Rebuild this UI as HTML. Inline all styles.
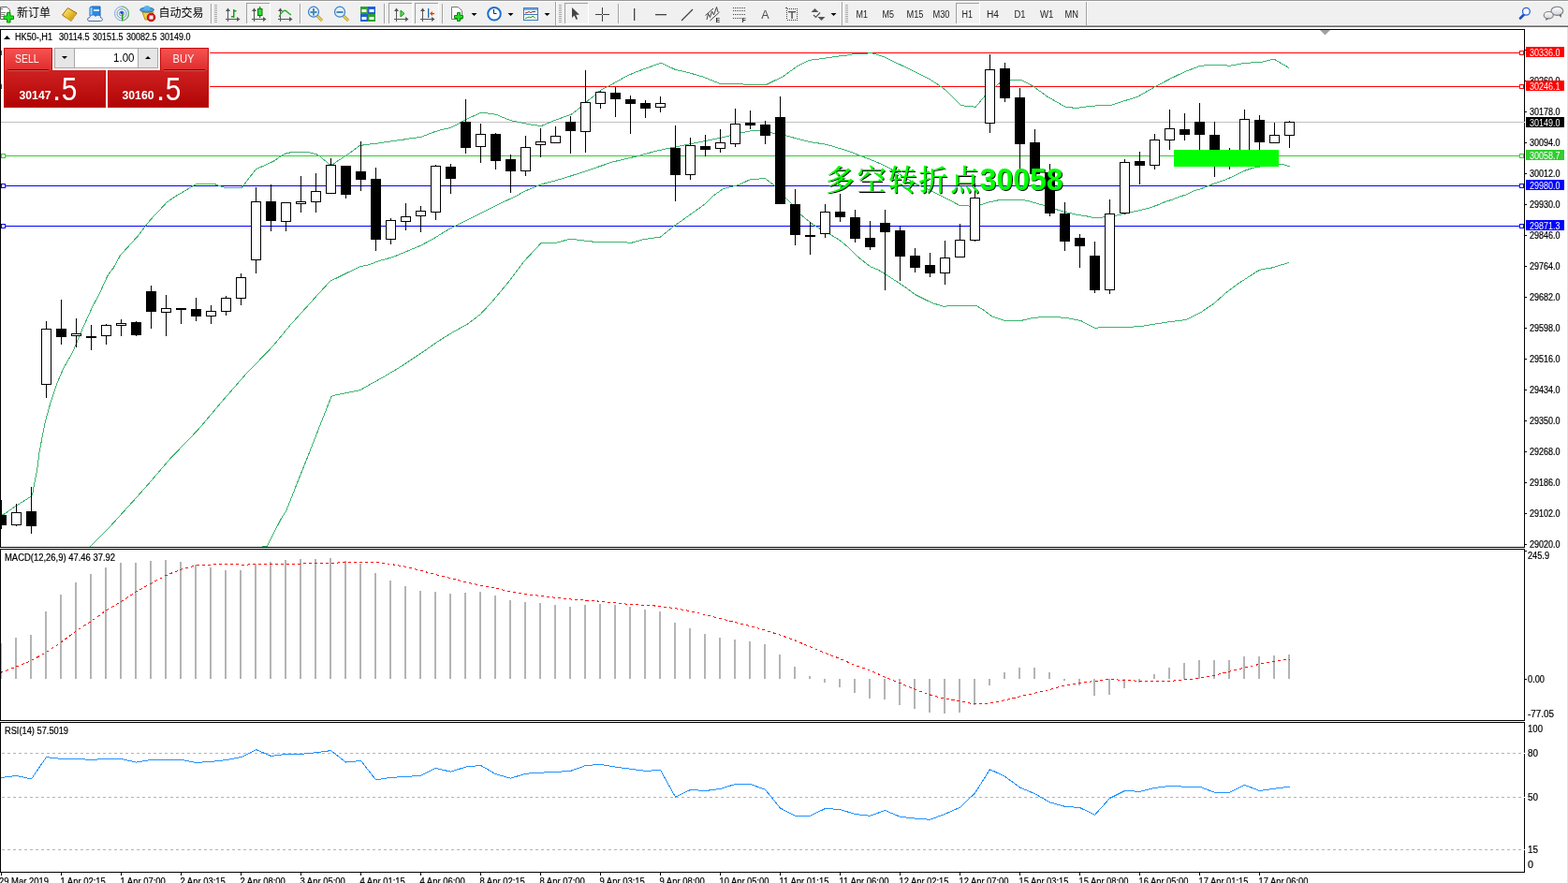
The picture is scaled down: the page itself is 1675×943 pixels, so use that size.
<!DOCTYPE html>
<html><head><meta charset="utf-8"><title>MT4 HK50 H1</title>
<style>
html,body{margin:0;padding:0;background:#fff;}
body{width:1675px;height:943px;overflow:hidden;position:relative;font-family:'Liberation Sans',Arial,sans-serif;}
#chart{position:absolute;left:0;top:29px;}
#edge{position:absolute;left:1674px;top:29px;width:1px;height:914px;background:#e3e3e3;}
</style></head><body>
<svg id="tb" width="1675" height="29" viewBox="0 0 1675 29" style="position:absolute;left:0;top:0"><defs><pattern id="dith" width="2" height="2" patternUnits="userSpaceOnUse"><rect width="2" height="2" fill="#f8f8f8"/><rect width="1" height="1" fill="#ececec"/><rect x="1" y="1" width="1" height="1" fill="#ececec"/></pattern></defs><rect x="0" y="0" width="1675" height="1" fill="#989898"/><rect x="0" y="1" width="1675" height="1" fill="#fff"/><rect x="0" y="2" width="1675" height="25" fill="#f0f0f0"/><rect x="0" y="26" width="1675" height="1" fill="#f5f5f5"/><rect x="0" y="27" width="1675" height="1" fill="#a0a0a0"/><rect x="0" y="28" width="1675" height="1" fill="#696969"/><path d="M0.5,7.5 H7.5 L10.5,10.5 V20.5 H0.5 Z" fill="#fff" stroke="#666" stroke-width="1"/><rect x="1" y="9" width="2" height="1" fill="#777"/><rect x="1" y="13" width="5" height="1" fill="#888"/><rect x="1" y="15" width="4" height="1" fill="#888"/><rect x="1" y="17" width="3" height="1" fill="#888"/><path d="M7.5,13.5 h3.5 v3.5 h3.5 v3.5 h-3.5 v3.5 h-3.5 v-3.5 h-3.5 v-3.5 h3.5 z" fill="#22e022" stroke="#0a8a0a" stroke-width="1"/><text x="18" y="18" style="font-family:'Liberation Sans','Noto Sans CJK SC',sans-serif;font-size:12px;fill:#000">新订单</text><defs><linearGradient id="gold" x1="0" y1="0" x2="1" y2="1"><stop offset="0" stop-color="#fff0a0"/><stop offset="0.5" stop-color="#e8c030"/><stop offset="1" stop-color="#b88010"/></linearGradient></defs><polygon points="66.5,16 72.5,8.5 82,14 76,22.5" fill="url(#gold)" stroke="#9a6808" stroke-width="1" stroke-linejoin="round"/><polyline points="68.5,18 76,22 81,15" fill="none" stroke="#d8b050" stroke-width="1"/><polygon points="96,8 98,7 107,7 107,17 96,17" fill="#2a8ae6" stroke="#1463b8" stroke-width="1"/><rect x="96.5" y="8" width="2" height="9" fill="#9ad0ff"/><rect x="100" y="10" width="6" height="2" fill="#cfe8ff"/><path d="M95,22.5 C93,22.5 93,18.5 96,18.5 C96.5,15.5 101,15 102,17.5 C103.5,15.5 108,16 107.5,19 C110,19 110,22.5 107.5,22.5 Z" fill="#eef2fa" stroke="#4a6aa8" stroke-width="1"/><circle cx="130" cy="14.5" r="7.5" fill="none" stroke="#7fa6d8" stroke-width="1"/><circle cx="130" cy="14.5" r="5" fill="none" stroke="#6c9ad6" stroke-width="1"/><circle cx="130" cy="14.5" r="2.5" fill="none" stroke="#5a8ad0" stroke-width="1"/><path d="M130,7 A7.5,7.5 0 0 1 130,22" fill="none" stroke="#6ab86a" stroke-width="1.2"/><rect x="130" y="14" width="1.5" height="8" fill="#22a022"/><circle cx="130" cy="13.5" r="1.6" fill="#1a4ad0"/><polygon points="152,13 164,13 161,21 155,21" fill="#f2d040" stroke="#b89020" stroke-width="1"/><ellipse cx="157" cy="10.5" rx="7.5" ry="2.5" fill="#4aa2dc" stroke="#2a70b0" stroke-width="1"/><ellipse cx="157" cy="8.5" rx="3.5" ry="2.5" fill="#5ab2ec"/><circle cx="161.5" cy="18.5" r="4.3" fill="#d81818" stroke="#a00" stroke-width="0.8"/><rect x="159.5" y="16.5" width="4" height="4" fill="#fff"/><text x="169.6" y="18" style="font-family:'Liberation Sans','Noto Sans CJK SC',sans-serif;font-size:12px;fill:#000">自动交易</text><rect x="225" y="4" width="1" height="21" fill="#a0a0a0"/><rect x="226" y="4" width="1" height="21" fill="#fff"/><rect x="229" y="5" width="3" height="1" fill="#a8a8a8"/><rect x="229" y="7" width="3" height="1" fill="#a8a8a8"/><rect x="229" y="9" width="3" height="1" fill="#a8a8a8"/><rect x="229" y="11" width="3" height="1" fill="#a8a8a8"/><rect x="229" y="13" width="3" height="1" fill="#a8a8a8"/><rect x="229" y="15" width="3" height="1" fill="#a8a8a8"/><rect x="229" y="17" width="3" height="1" fill="#a8a8a8"/><rect x="229" y="19" width="3" height="1" fill="#a8a8a8"/><rect x="229" y="21" width="3" height="1" fill="#a8a8a8"/><rect x="229" y="23" width="3" height="1" fill="#a8a8a8"/><g fill="#555"><rect x="243" y="10" width="1" height="13"/><polygon points="241,12 243.5,8.5 246,12"/><rect x="241" y="20" width="13" height="1"/><polygon points="253,18 256.5,20.5 253,23"/></g><g fill="#14a014"><rect x="249" y="10" width="1.5" height="9"/><rect x="247" y="17" width="2" height="1.5"/><rect x="250" y="11" width="2.5" height="1.5"/></g><rect x="263" y="3" width="25" height="22" fill="url(#dith)"/><rect x="263" y="3" width="25" height="1" fill="#a0a0a0"/><rect x="263" y="3" width="1" height="22" fill="#a0a0a0"/><rect x="263" y="25" width="26" height="1" fill="#fff"/><rect x="288" y="3" width="1" height="23" fill="#fff"/><g fill="#555"><rect x="271" y="10" width="1" height="13"/><polygon points="269,12 271.5,8.5 274,12"/><rect x="269" y="20" width="13" height="1"/><polygon points="281,18 284.5,20.5 281,23"/></g><rect x="277" y="7" width="1.3" height="12" fill="#0a8a0a"/><rect x="275.5" y="9.5" width="4.5" height="7" fill="#33dd33" stroke="#0a7a0a" stroke-width="1"/><g fill="#555"><rect x="299" y="10" width="1" height="13"/><polygon points="297,12 299.5,8.5 302,12"/><rect x="297" y="20" width="13" height="1"/><polygon points="309,18 312.5,20.5 309,23"/></g><path d="M298,18 Q303,9 306,12 T311,16" fill="none" stroke="#22aa22" stroke-width="1.3"/><rect x="320" y="4" width="1" height="21" fill="#a0a0a0"/><rect x="321" y="4" width="1" height="21" fill="#fff"/><line x1="339" y1="17" x2="344" y2="22" stroke="#b88a10" stroke-width="3"/><line x1="339" y1="17" x2="344" y2="22" stroke="#f0d860" stroke-width="1.5"/><circle cx="335" cy="12.7" r="5.5" fill="#dff0fb" stroke="#3a7cc8" stroke-width="1.2"/><rect x="331.5" y="12" width="7" height="2" fill="#4a8ab8"/><rect x="334" y="9" width="2" height="7.5" fill="#4a8ab8"/><line x1="367" y1="17" x2="372" y2="22" stroke="#b88a10" stroke-width="3"/><line x1="367" y1="17" x2="372" y2="22" stroke="#f0d860" stroke-width="1.5"/><circle cx="363" cy="12.7" r="5.5" fill="#dff0fb" stroke="#3a7cc8" stroke-width="1.2"/><rect x="359.5" y="12" width="7" height="2" fill="#4a8ab8"/><rect x="385" y="7" width="8" height="8" fill="#2fa02f"/><rect x="386.5" y="10" width="5" height="3" fill="#fff"/><rect x="393" y="7" width="8" height="8" fill="#2060d0"/><rect x="394.5" y="10" width="5" height="3" fill="#fff"/><rect x="385" y="15" width="8" height="8" fill="#2060d0"/><rect x="386.5" y="18" width="5" height="3" fill="#fff"/><rect x="393" y="15" width="8" height="8" fill="#2fa02f"/><rect x="394.5" y="18" width="5" height="3" fill="#fff"/><rect x="410" y="4" width="1" height="21" fill="#a0a0a0"/><rect x="411" y="4" width="1" height="21" fill="#fff"/><rect x="415" y="3" width="25" height="22" fill="url(#dith)"/><rect x="415" y="3" width="25" height="1" fill="#a0a0a0"/><rect x="415" y="3" width="1" height="22" fill="#a0a0a0"/><rect x="415" y="25" width="26" height="1" fill="#fff"/><rect x="440" y="3" width="1" height="23" fill="#fff"/><g fill="#555"><rect x="423" y="10" width="1" height="13"/><polygon points="421,12 423.5,8.5 426,12"/><rect x="421" y="20" width="13" height="1"/><polygon points="433,18 436.5,20.5 433,23"/></g><polygon points="428,11 432,14.5 428,18" fill="#55dd55" stroke="#119911" stroke-width="1"/><rect x="443" y="3" width="25" height="22" fill="url(#dith)"/><rect x="443" y="3" width="25" height="1" fill="#a0a0a0"/><rect x="443" y="3" width="1" height="22" fill="#a0a0a0"/><rect x="443" y="25" width="26" height="1" fill="#fff"/><rect x="468" y="3" width="1" height="23" fill="#fff"/><g fill="#555"><rect x="451" y="10" width="1" height="13"/><polygon points="449,12 451.5,8.5 454,12"/><rect x="449" y="20" width="13" height="1"/><polygon points="461,18 464.5,20.5 461,23"/></g><rect x="457" y="9" width="1.3" height="10" fill="#1a6aa8"/><polygon points="459,14.5 462,12 462,17" fill="#e05010"/><rect x="461" y="14" width="3" height="1.2" fill="#c04010"/><rect x="472" y="4" width="1" height="21" fill="#a0a0a0"/><rect x="473" y="4" width="1" height="21" fill="#fff"/><path d="M482.5,7.5 H489.5 L493.5,11.5 V20.5 H482.5 Z" fill="#fff" stroke="#777" stroke-width="1"/><path d="M488.5,13.5 h3 v3 h3 v3 h-3 v3 h-3 v-3 h-3 v-3 h3 z" fill="#22dd22" stroke="#0a8a0a" stroke-width="1"/><polygon points="503.5,14 509.5,14 506.5,17" fill="#000"/><circle cx="528" cy="14.8" r="6.8" fill="#fff" stroke="#1a6fd0" stroke-width="2"/><line x1="527.5" y1="14.5" x2="527.5" y2="10" stroke="#222" stroke-width="1"/><line x1="527.5" y1="14.5" x2="530.5" y2="14.5" stroke="#222" stroke-width="1"/><polygon points="542.5,14 548.5,14 545.5,17" fill="#000"/><rect x="559.5" y="8.5" width="15" height="13" fill="#fff" stroke="#3a78c0" stroke-width="1"/><rect x="560" y="9" width="14" height="2" fill="#7aa8e0"/><rect x="560" y="15" width="14" height="1" fill="#3a78c0"/><polyline points="561,14 563,13.5 565,12.5 567,13.5 569,12.5 572,12.5" fill="none" stroke="#a02010" stroke-width="1"/><polyline points="561,19.5 563,19 565,18 567,19 569,17 572,19.5" fill="none" stroke="#10a020" stroke-width="1"/><polygon points="581.5,14 587.5,14 584.5,17" fill="#000"/><rect x="593" y="2" width="1" height="25" fill="#a0a0a0"/><rect x="594" y="2" width="1" height="25" fill="#fff"/><rect x="597" y="5" width="3" height="1" fill="#a8a8a8"/><rect x="597" y="7" width="3" height="1" fill="#a8a8a8"/><rect x="597" y="9" width="3" height="1" fill="#a8a8a8"/><rect x="597" y="11" width="3" height="1" fill="#a8a8a8"/><rect x="597" y="13" width="3" height="1" fill="#a8a8a8"/><rect x="597" y="15" width="3" height="1" fill="#a8a8a8"/><rect x="597" y="17" width="3" height="1" fill="#a8a8a8"/><rect x="597" y="19" width="3" height="1" fill="#a8a8a8"/><rect x="597" y="21" width="3" height="1" fill="#a8a8a8"/><rect x="597" y="23" width="3" height="1" fill="#a8a8a8"/><rect x="603" y="3" width="25" height="22" fill="url(#dith)"/><rect x="603" y="3" width="25" height="1" fill="#a0a0a0"/><rect x="603" y="3" width="1" height="22" fill="#a0a0a0"/><rect x="603" y="25" width="26" height="1" fill="#fff"/><rect x="628" y="3" width="1" height="23" fill="#fff"/><polygon points="611,8 611,19 613.5,16.5 615.5,21 617,20.3 615.2,15.8 619,15.8" fill="#444"/><g fill="#404040"><rect x="636" y="15" width="7" height="1"/><rect x="644" y="15" width="7" height="1"/><rect x="643" y="8" width="1" height="7"/><rect x="643" y="16" width="1" height="7"/></g><rect x="660" y="4" width="1" height="21" fill="#a0a0a0"/><rect x="661" y="4" width="1" height="21" fill="#fff"/><rect x="677" y="9" width="1.3" height="13" fill="#444"/><rect x="700" y="15" width="12" height="1.3" fill="#444"/><line x1="728" y1="22" x2="740" y2="10" stroke="#444" stroke-width="1.2"/><g stroke="#444" stroke-width="1" fill="none"><line x1="753.5" y1="16.5" x2="762" y2="9"/><line x1="758.5" y1="22" x2="768.5" y2="13"/><polyline points="755,21 756.5,14.5 758.5,18.5 760.5,12 762.5,16 765.5,7.5 767,13"/></g><text x="764.6" y="23.8" style="font-family:'Liberation Sans',Arial,sans-serif;font-size:7px;font-weight:bold;fill:#333">E</text><g fill="#444"><rect x="783" y="8" width="1" height="1"/><rect x="785" y="8" width="1" height="1"/><rect x="787" y="8" width="1" height="1"/><rect x="789" y="8" width="1" height="1"/><rect x="791" y="8" width="1" height="1"/><rect x="793" y="8" width="1" height="1"/><rect x="795" y="8" width="1" height="1"/><rect x="783" y="11" width="1" height="1"/><rect x="785" y="11" width="1" height="1"/><rect x="787" y="11" width="1" height="1"/><rect x="789" y="11" width="1" height="1"/><rect x="791" y="11" width="1" height="1"/><rect x="793" y="11" width="1" height="1"/><rect x="795" y="11" width="1" height="1"/><rect x="783" y="15" width="1" height="1"/><rect x="785" y="15" width="1" height="1"/><rect x="787" y="15" width="1" height="1"/><rect x="789" y="15" width="1" height="1"/><rect x="791" y="15" width="1" height="1"/><rect x="793" y="15" width="1" height="1"/><rect x="795" y="15" width="1" height="1"/><rect x="783" y="19" width="1" height="1"/><rect x="785" y="19" width="1" height="1"/><rect x="787" y="19" width="1" height="1"/><rect x="789" y="19" width="1" height="1"/><rect x="791" y="19" width="1" height="1"/></g><text x="792.6" y="24" style="font-family:'Liberation Sans',Arial,sans-serif;font-size:7px;font-weight:bold;fill:#333">F</text><text x="813.3" y="20" style="font-family:'Liberation Sans',Arial,sans-serif;font-size:12px;fill:#505050" textLength="8.4" lengthAdjust="spacingAndGlyphs">A</text><g fill="#444"><rect x="841" y="9" width="1" height="1"/><rect x="841" y="21" width="1" height="1"/><rect x="843" y="9" width="1" height="1"/><rect x="843" y="21" width="1" height="1"/><rect x="845" y="9" width="1" height="1"/><rect x="845" y="21" width="1" height="1"/><rect x="847" y="9" width="1" height="1"/><rect x="847" y="21" width="1" height="1"/><rect x="849" y="9" width="1" height="1"/><rect x="849" y="21" width="1" height="1"/><rect x="851" y="9" width="1" height="1"/><rect x="851" y="21" width="1" height="1"/><rect x="840" y="11" width="1" height="1"/><rect x="851" y="11" width="1" height="1"/><rect x="840" y="13" width="1" height="1"/><rect x="851" y="13" width="1" height="1"/><rect x="840" y="15" width="1" height="1"/><rect x="851" y="15" width="1" height="1"/><rect x="840" y="17" width="1" height="1"/><rect x="851" y="17" width="1" height="1"/><rect x="840" y="19" width="1" height="1"/><rect x="851" y="19" width="1" height="1"/><rect x="839" y="8" width="2" height="1"/></g><rect x="842" y="12" width="8" height="1.4" fill="#555"/><rect x="845.3" y="12" width="1.5" height="8" fill="#555"/><polygon points="870.5,9 874.5,13 866.5,13" fill="#555"/><polygon points="877.5,22 881.5,18 873.5,18" fill="#555"/><polyline points="869,16 871.5,18.5 876,13.5" fill="none" stroke="#555" stroke-width="1.2"/><polygon points="887.5,14 893.5,14 890.5,17" fill="#000"/><rect x="899" y="2" width="1" height="25" fill="#a0a0a0"/><rect x="900" y="2" width="1" height="25" fill="#fff"/><rect x="903" y="5" width="3" height="1" fill="#a8a8a8"/><rect x="903" y="7" width="3" height="1" fill="#a8a8a8"/><rect x="903" y="9" width="3" height="1" fill="#a8a8a8"/><rect x="903" y="11" width="3" height="1" fill="#a8a8a8"/><rect x="903" y="13" width="3" height="1" fill="#a8a8a8"/><rect x="903" y="15" width="3" height="1" fill="#a8a8a8"/><rect x="903" y="17" width="3" height="1" fill="#a8a8a8"/><rect x="903" y="19" width="3" height="1" fill="#a8a8a8"/><rect x="903" y="21" width="3" height="1" fill="#a8a8a8"/><rect x="903" y="23" width="3" height="1" fill="#a8a8a8"/><rect x="1021" y="3" width="25" height="22" fill="url(#dith)"/><rect x="1021" y="3" width="25" height="1" fill="#a0a0a0"/><rect x="1021" y="3" width="1" height="22" fill="#a0a0a0"/><rect x="1021" y="25" width="26" height="1" fill="#fff"/><rect x="1046" y="3" width="1" height="23" fill="#fff"/><text x="914.5" y="19" style="font-family:'Liberation Sans',Arial,sans-serif;font-size:10px;fill:#222" textLength="12.5" lengthAdjust="spacingAndGlyphs">M1</text><text x="942.5" y="19" style="font-family:'Liberation Sans',Arial,sans-serif;font-size:10px;fill:#222" textLength="12.5" lengthAdjust="spacingAndGlyphs">M5</text><text x="968.5" y="19" style="font-family:'Liberation Sans',Arial,sans-serif;font-size:10px;fill:#222" textLength="18" lengthAdjust="spacingAndGlyphs">M15</text><text x="996.5" y="19" style="font-family:'Liberation Sans',Arial,sans-serif;font-size:10px;fill:#222" textLength="18" lengthAdjust="spacingAndGlyphs">M30</text><text x="1027.5" y="19" style="font-family:'Liberation Sans',Arial,sans-serif;font-size:10px;fill:#222" textLength="11.5" lengthAdjust="spacingAndGlyphs">H1</text><text x="1054" y="19" style="font-family:'Liberation Sans',Arial,sans-serif;font-size:10px;fill:#222" textLength="13" lengthAdjust="spacingAndGlyphs">H4</text><text x="1083.5" y="19" style="font-family:'Liberation Sans',Arial,sans-serif;font-size:10px;fill:#222" textLength="12" lengthAdjust="spacingAndGlyphs">D1</text><text x="1111" y="19" style="font-family:'Liberation Sans',Arial,sans-serif;font-size:10px;fill:#222" textLength="14.5" lengthAdjust="spacingAndGlyphs">W1</text><text x="1137.5" y="19" style="font-family:'Liberation Sans',Arial,sans-serif;font-size:10px;fill:#222" textLength="14.5" lengthAdjust="spacingAndGlyphs">MN</text><rect x="1160" y="2" width="1" height="25" fill="#a0a0a0"/><rect x="1161" y="2" width="1" height="25" fill="#fff"/><line x1="1624" y1="19.5" x2="1628" y2="15.5" stroke="#2050c8" stroke-width="2.6" stroke-linecap="round"/><circle cx="1630.4" cy="12.3" r="3.9" fill="#f4f6ff" stroke="#2a62d8" stroke-width="1.3"/><defs><linearGradient id="bub" x1="0" y1="0" x2="0" y2="1"><stop offset="0" stop-color="#ffffff"/><stop offset="1" stop-color="#cfd3df"/></linearGradient></defs><polygon points="1664.5,15 1667.5,19 1668,14.5" fill="#555"/><ellipse cx="1663.4" cy="11.8" rx="6.4" ry="4.6" fill="url(#bub)" stroke="#7c7c7c" stroke-width="1.1"/><polygon points="1652,18.5 1651,22 1655,19.5" fill="#555"/><ellipse cx="1654.2" cy="16.2" rx="5" ry="3.7" fill="url(#bub)" stroke="#7c7c7c" stroke-width="1.1"/></svg>
<svg id="chart" width="1675" height="914" viewBox="0 29 1675 914"><defs>
<clipPath id="cmain"><rect x="1" y="32" width="1627" height="552"/></clipPath>
<clipPath id="cmacd"><rect x="1" y="587" width="1627" height="182"/></clipPath>
<clipPath id="crsi"><rect x="1" y="772" width="1627" height="159"/></clipPath>
<filter id="sh" x="-5%" y="-20%" width="110%" height="140%"><feDropShadow dx="1" dy="1" stdDeviation="0" flood-color="#000" flood-opacity="1"/></filter>
</defs><g shape-rendering="crispEdges">
<rect x="0.5" y="31.5" width="1628" height="553" fill="#fff" stroke="#000" stroke-width="1"/>
<rect x="0.5" y="586.5" width="1628" height="183" fill="#fff" stroke="#000" stroke-width="1"/>
<rect x="0.5" y="771.5" width="1628" height="160" fill="#fff" stroke="#000" stroke-width="1"/>
</g>
<g shape-rendering="crispEdges">
<rect x="1" y="130" width="1627" height="1" fill="#c0c0c0"/>
<rect x="1" y="56" width="1627" height="1" fill="#ff0000"/>
<rect x="1" y="92" width="1627" height="1" fill="#ff0000"/>
<rect x="1" y="166" width="1627" height="1" fill="#32cd32"/>
<rect x="1" y="198" width="1627" height="1" fill="#0000ff"/>
<rect x="1" y="241" width="1627" height="1" fill="#0000ff"/>
</g>
<g shape-rendering="crispEdges" clip-path="url(#cmain)">
<polyline points="0.5,551.0 3.9,549.4 17.2,540.2 33.2,530.2 34.8,526.8 39.9,500.0 42.2,482.0 48.0,451.7 53.8,430.7 60.8,409.7 67.8,393.3 77.2,377.0 88.6,350.0 98.3,328.6 106.0,314.1 115.3,293.8 121.2,286.1 128.5,272.7 134.9,265.7 141.2,258.7 147.6,251.7 155.2,241.6 160.3,235.2 169.9,225.0 178.1,216.1 188.3,209.1 197.2,204.0 208.7,197.0 210.0,196.1 227.8,196.1 231.6,197.4 236.7,199.2 240.5,200.4 258.3,200.4 260.2,197.8 273.3,180.8 284.1,176.0 292.4,172.1 302.0,165.5 306.8,163.4 315.1,162.2 325.9,162.2 331.8,163.1 337.8,164.6 341.4,166.7 352.1,175.7 355.7,175.7 360.5,172.1 372.4,164.3 384.4,155.4 391.5,154.5 405.3,152.8 413.8,151.5 420.5,150.4 431.6,149.0 438.4,147.7 445.1,147.0 451.1,146.0 457.0,143.4 463.8,140.9 472.3,138.3 479.1,137.1 482.5,135.8 489.2,132.4 494.3,129.4 500.5,126.3 513.6,120.3 517.2,120.3 524.4,121.5 530.4,122.3 536.3,125.1 545.9,128.7 554.2,130.4 562.6,132.2 569.8,133.4 578.1,134.6 586.5,131.0 593.6,128.1 602.0,125.1 610.4,122.1 615.1,118.5 621.1,113.7 628.3,107.2 635.4,101.8 641.4,96.4 649.8,92.2 659.3,86.9 670.1,80.9 680.5,76.5 693.6,71.7 706.1,67.1 721.2,74.3 735.7,77.6 751.4,82.2 768.5,89.1 793.5,89.4 794.8,90.5 818.4,90.5 836.8,81.5 851.2,71.0 864.4,64.4 877.5,62.7 892.0,60.5 905.3,59.0 912.4,57.4 931.5,56.9 936.3,58.1 945.9,61.3 956.6,66.7 968.6,72.4 984.1,79.9 993.6,84.9 1003.2,91.2 1009.2,95.4 1025.9,112.1 1031.8,113.3 1037.8,113.3 1042.0,114.5 1045.0,110.9 1052.1,102.5 1056.9,96.6 1064.1,91.8 1067.7,88.8 1073.6,85.8 1079.6,85.2 1090.5,85.4 1103.0,91.7 1119.2,103.4 1138.0,114.1 1149.6,115.5 1165.7,113.2 1187.2,112.3 1215.9,103.0 1235.6,91.7 1251.7,83.3 1266.0,76.5 1281.3,70.6 1291.1,69.3 1305.5,69.7 1314.4,70.2 1328.7,67.5 1348.4,66.1 1361.0,63.1 1377.1,72.6" fill="none" stroke="#3cb371" stroke-width="1" />
<polyline points="96.3,583.5 118.5,561.3 141.8,535.7 160.5,514.7 181.5,490.2 211.8,458.7 237.5,428.3 262.0,400.3 291.2,370.0 310.5,346.7 335.3,319.3 352.5,300.4 385.1,284.4 392.5,283.3 404.5,278.8 420.0,274.5 449.9,262.0 462.5,255.2 479.8,244.6 504.7,232.1 534.5,217.2 550.2,210.0 559.5,204.7 577.9,197.0 600.5,190.9 625.6,182.8 654.2,173.0 681.1,166.7 700.8,161.3 716.9,157.8 743.8,152.4 770.7,147.0 788.6,142.5 801.1,139.9 811.9,139.9 828.0,142.5 840.5,145.2 860.5,150.4 868.9,152.3 878.4,153.5 884.4,154.7 893.3,157.4 902.3,160.1 911.2,163.1 917.2,165.7 926.2,169.0 938.1,173.8 950.1,179.5 959.6,185.3 969.2,191.0 978.7,196.7 988.3,200.6 997.8,205.3 1007.4,210.1 1016.9,214.9 1024.5,219.2 1036.0,220.1 1047.5,218.7 1055.1,216.3 1064.7,214.1 1072.3,213.2 1083.8,213.2 1090.5,213.5 1097.7,214.3 1104.8,216.5 1114.9,219.3 1127.7,223.5 1140.6,227.2 1151.4,229.4 1162.1,231.1 1167.9,232.4 1176.5,232.4 1180.8,231.4 1192.2,230.2 1201.5,228.3 1210.5,226.1 1222.8,223.5 1230.2,221.2 1237.6,218.6 1245.0,215.4 1252.5,213.1 1259.9,210.1 1267.3,207.9 1274.7,204.1 1282.2,201.9 1289.6,199.0 1297.0,196.0 1302.4,194.3 1311.4,191.0 1320.4,186.9 1329.3,182.4 1338.3,179.4 1344.2,178.2 1355.5,176.5 1366.9,175.5 1370.5,175.6 1375.9,177.4 1377.5,177.4" fill="none" stroke="#3cb371" stroke-width="1" />
<polyline points="280.5,584.0 285.5,583.0 300.5,553.6 305.5,546.0 330.3,483.7 354.0,423.4 356.9,422.3 385.1,416.5 390.5,413.2 408.5,403.3 426.6,392.5 450.0,377.1 468.0,364.5 482.5,355.5 498.7,346.5 513.1,335.7 525.8,322.1 543.8,300.5 560.0,278.9 578.1,259.4 593.6,259.5 609.4,255.1 622.5,256.8 635.7,258.4 665.9,258.4 673.7,259.5 688.2,255.5 705.3,253.2 719.7,241.7 738.1,228.6 753.9,217.4 761.7,209.3 772.5,201.6 788.6,197.7 801.1,191.8 817.2,190.5 826.2,197.2 828.5,199.0 840.3,212.3 846.3,218.2 855.5,229.3 868.2,239.6 876.2,244.4 887.3,250.8 896.8,256.3 906.4,264.3 915.9,273.8 923.9,280.2 930.2,285.0 938.2,288.2 946.1,292.9 955.7,299.3 966.8,306.4 970.5,309.4 978.4,315.0 987.6,319.6 996.8,323.9 1008.6,327.4 1017.8,326.1 1042.1,326.1 1049.3,330.1 1059.8,337.9 1072.9,342.3 1091.3,342.3 1103.2,339.6 1115.0,338.3 1129.4,338.6 1141.2,339.9 1154.4,342.5 1170.1,350.4 1178.0,349.4 1209.3,349.2 1221.9,348.0 1236.9,345.6 1249.5,343.7 1267.0,341.5 1283.3,333.3 1297.1,323.9 1309.6,312.6 1322.2,303.2 1343.5,289.4 1348.5,287.6 1358.5,286.0 1377.3,280.3" fill="none" stroke="#3cb371" stroke-width="1" />
</g>
<g shape-rendering="crispEdges" clip-path="url(#cmain)">
<rect x="1" y="534" width="1" height="31" fill="#000"/>
<rect x="-4" y="550" width="11" height="11" fill="#000"/>
<rect x="17" y="538" width="1" height="24" fill="#000"/>
<rect x="12.5" y="547.5" width="10" height="13" fill="#fff" stroke="#000" stroke-width="1"/>
<rect x="33" y="520" width="1" height="50" fill="#000"/>
<rect x="28" y="546" width="11" height="16" fill="#000"/>
<rect x="49" y="343" width="1" height="82" fill="#000"/>
<rect x="44.5" y="351.5" width="10" height="59" fill="#fff" stroke="#000" stroke-width="1"/>
<rect x="65" y="320" width="1" height="48" fill="#000"/>
<rect x="60" y="351" width="11" height="9" fill="#000"/>
<rect x="81" y="340" width="1" height="31" fill="#000"/>
<rect x="76.5" y="356.5" width="10" height="2" fill="#fff" stroke="#000" stroke-width="1"/>
<rect x="97" y="347" width="1" height="27" fill="#000"/>
<rect x="92" y="359" width="11" height="2" fill="#000"/>
<rect x="113" y="346" width="1" height="22" fill="#000"/>
<rect x="108.5" y="347.5" width="10" height="11" fill="#fff" stroke="#000" stroke-width="1"/>
<rect x="129" y="341" width="1" height="18" fill="#000"/>
<rect x="124.5" y="345.5" width="10" height="2" fill="#fff" stroke="#000" stroke-width="1"/>
<rect x="145" y="343" width="1" height="16" fill="#000"/>
<rect x="140" y="344" width="11" height="14" fill="#000"/>
<rect x="161" y="305" width="1" height="46" fill="#000"/>
<rect x="156" y="311" width="11" height="22" fill="#000"/>
<rect x="177" y="315" width="1" height="44" fill="#000"/>
<rect x="172.5" y="329.5" width="10" height="4" fill="#fff" stroke="#000" stroke-width="1"/>
<rect x="193" y="329" width="1" height="17" fill="#000"/>
<rect x="188" y="329" width="11" height="2" fill="#000"/>
<rect x="209" y="318" width="1" height="25" fill="#000"/>
<rect x="204" y="330" width="11" height="8" fill="#000"/>
<rect x="225" y="326" width="1" height="20" fill="#000"/>
<rect x="220.5" y="332.5" width="10" height="5" fill="#fff" stroke="#000" stroke-width="1"/>
<rect x="241" y="316" width="1" height="21" fill="#000"/>
<rect x="236.5" y="318.5" width="10" height="14" fill="#fff" stroke="#000" stroke-width="1"/>
<rect x="257" y="292" width="1" height="34" fill="#000"/>
<rect x="252.5" y="296.5" width="10" height="22" fill="#fff" stroke="#000" stroke-width="1"/>
<rect x="273" y="200" width="1" height="92" fill="#000"/>
<rect x="268.5" y="215.5" width="10" height="62" fill="#fff" stroke="#000" stroke-width="1"/>
<rect x="289" y="197" width="1" height="50" fill="#000"/>
<rect x="284" y="215" width="11" height="21" fill="#000"/>
<rect x="305" y="216" width="1" height="31" fill="#000"/>
<rect x="300.5" y="216.5" width="10" height="20" fill="#fff" stroke="#000" stroke-width="1"/>
<rect x="321" y="188" width="1" height="39" fill="#000"/>
<rect x="316.5" y="215.5" width="10" height="2" fill="#fff" stroke="#000" stroke-width="1"/>
<rect x="337" y="185" width="1" height="42" fill="#000"/>
<rect x="332.5" y="204.5" width="10" height="11" fill="#fff" stroke="#000" stroke-width="1"/>
<rect x="353" y="169" width="1" height="37" fill="#000"/>
<rect x="348.5" y="176.5" width="10" height="30" fill="#fff" stroke="#000" stroke-width="1"/>
<rect x="369" y="177" width="1" height="35" fill="#000"/>
<rect x="364" y="177" width="11" height="31" fill="#000"/>
<rect x="385" y="151" width="1" height="53" fill="#000"/>
<rect x="380" y="183" width="11" height="9" fill="#000"/>
<rect x="401" y="179" width="1" height="89" fill="#000"/>
<rect x="396" y="191" width="11" height="65" fill="#000"/>
<rect x="417" y="233" width="1" height="28" fill="#000"/>
<rect x="412.5" y="235.5" width="10" height="20" fill="#fff" stroke="#000" stroke-width="1"/>
<rect x="433" y="217" width="1" height="29" fill="#000"/>
<rect x="428.5" y="231.5" width="10" height="5" fill="#fff" stroke="#000" stroke-width="1"/>
<rect x="449" y="220" width="1" height="28" fill="#000"/>
<rect x="444.5" y="225.5" width="10" height="5" fill="#fff" stroke="#000" stroke-width="1"/>
<rect x="465" y="176" width="1" height="59" fill="#000"/>
<rect x="460.5" y="177.5" width="10" height="49" fill="#fff" stroke="#000" stroke-width="1"/>
<rect x="481" y="175" width="1" height="32" fill="#000"/>
<rect x="476" y="178" width="11" height="13" fill="#000"/>
<rect x="497" y="106" width="1" height="58" fill="#000"/>
<rect x="492" y="130" width="11" height="28" fill="#000"/>
<rect x="513" y="132" width="1" height="42" fill="#000"/>
<rect x="508.5" y="143.5" width="10" height="13" fill="#fff" stroke="#000" stroke-width="1"/>
<rect x="529" y="142" width="1" height="39" fill="#000"/>
<rect x="524" y="143" width="11" height="29" fill="#000"/>
<rect x="545" y="165" width="1" height="41" fill="#000"/>
<rect x="540" y="170" width="11" height="13" fill="#000"/>
<rect x="561" y="145" width="1" height="43" fill="#000"/>
<rect x="556.5" y="157.5" width="10" height="25" fill="#fff" stroke="#000" stroke-width="1"/>
<rect x="577" y="137" width="1" height="31" fill="#000"/>
<rect x="572.5" y="151.5" width="10" height="3" fill="#fff" stroke="#000" stroke-width="1"/>
<rect x="593" y="135" width="1" height="17" fill="#000"/>
<rect x="588.5" y="145.5" width="10" height="7" fill="#fff" stroke="#000" stroke-width="1"/>
<rect x="609" y="124" width="1" height="40" fill="#000"/>
<rect x="604" y="130" width="11" height="10" fill="#000"/>
<rect x="625" y="75" width="1" height="88" fill="#000"/>
<rect x="620.5" y="109.5" width="10" height="31" fill="#fff" stroke="#000" stroke-width="1"/>
<rect x="641" y="97" width="1" height="19" fill="#000"/>
<rect x="636.5" y="98.5" width="10" height="12" fill="#fff" stroke="#000" stroke-width="1"/>
<rect x="657" y="93" width="1" height="32" fill="#000"/>
<rect x="652" y="99" width="11" height="7" fill="#000"/>
<rect x="673" y="102" width="1" height="41" fill="#000"/>
<rect x="668" y="106" width="11" height="5" fill="#000"/>
<rect x="689" y="107" width="1" height="19" fill="#000"/>
<rect x="684" y="110" width="11" height="6" fill="#000"/>
<rect x="705" y="103" width="1" height="17" fill="#000"/>
<rect x="700.5" y="110.5" width="10" height="4" fill="#fff" stroke="#000" stroke-width="1"/>
<rect x="721" y="134" width="1" height="81" fill="#000"/>
<rect x="716" y="158" width="11" height="29" fill="#000"/>
<rect x="737" y="147" width="1" height="45" fill="#000"/>
<rect x="732.5" y="155.5" width="10" height="31" fill="#fff" stroke="#000" stroke-width="1"/>
<rect x="753" y="144" width="1" height="23" fill="#000"/>
<rect x="748" y="156" width="11" height="4" fill="#000"/>
<rect x="769" y="138" width="1" height="25" fill="#000"/>
<rect x="764.5" y="152.5" width="10" height="6" fill="#fff" stroke="#000" stroke-width="1"/>
<rect x="785" y="116" width="1" height="41" fill="#000"/>
<rect x="780.5" y="132.5" width="10" height="21" fill="#fff" stroke="#000" stroke-width="1"/>
<rect x="801" y="118" width="1" height="20" fill="#000"/>
<rect x="796" y="131" width="11" height="3" fill="#000"/>
<rect x="817" y="129" width="1" height="25" fill="#000"/>
<rect x="812" y="133" width="11" height="12" fill="#000"/>
<rect x="833" y="103" width="1" height="115" fill="#000"/>
<rect x="828" y="125" width="11" height="93" fill="#000"/>
<rect x="849" y="202" width="1" height="60" fill="#000"/>
<rect x="844" y="218" width="11" height="33" fill="#000"/>
<rect x="865" y="237" width="1" height="35" fill="#000"/>
<rect x="860" y="251" width="11" height="2" fill="#000"/>
<rect x="881" y="218" width="1" height="36" fill="#000"/>
<rect x="876.5" y="226.5" width="10" height="23" fill="#fff" stroke="#000" stroke-width="1"/>
<rect x="897" y="207" width="1" height="30" fill="#000"/>
<rect x="892" y="226" width="11" height="6" fill="#000"/>
<rect x="913" y="224" width="1" height="35" fill="#000"/>
<rect x="908" y="232" width="11" height="23" fill="#000"/>
<rect x="929" y="236" width="1" height="31" fill="#000"/>
<rect x="924" y="254" width="11" height="10" fill="#000"/>
<rect x="945" y="224" width="1" height="86" fill="#000"/>
<rect x="940" y="238" width="11" height="10" fill="#000"/>
<rect x="961" y="242" width="1" height="58" fill="#000"/>
<rect x="956" y="246" width="11" height="28" fill="#000"/>
<rect x="977" y="265" width="1" height="26" fill="#000"/>
<rect x="972" y="273" width="11" height="13" fill="#000"/>
<rect x="993" y="270" width="1" height="26" fill="#000"/>
<rect x="988" y="283" width="11" height="9" fill="#000"/>
<rect x="1009" y="257" width="1" height="47" fill="#000"/>
<rect x="1004.5" y="275.5" width="10" height="16" fill="#fff" stroke="#000" stroke-width="1"/>
<rect x="1025" y="239" width="1" height="35" fill="#000"/>
<rect x="1020.5" y="256.5" width="10" height="18" fill="#fff" stroke="#000" stroke-width="1"/>
<rect x="1041" y="196" width="1" height="62" fill="#000"/>
<rect x="1036.5" y="211.5" width="10" height="45" fill="#fff" stroke="#000" stroke-width="1"/>
<rect x="1057" y="58" width="1" height="84" fill="#000"/>
<rect x="1052.5" y="74.5" width="10" height="57" fill="#fff" stroke="#000" stroke-width="1"/>
<rect x="1073" y="67" width="1" height="42" fill="#000"/>
<rect x="1068" y="73" width="11" height="32" fill="#000"/>
<rect x="1089" y="94" width="1" height="88" fill="#000"/>
<rect x="1084" y="104" width="11" height="50" fill="#000"/>
<rect x="1105" y="138" width="1" height="49" fill="#000"/>
<rect x="1100" y="152" width="11" height="34" fill="#000"/>
<rect x="1121" y="175" width="1" height="56" fill="#000"/>
<rect x="1116" y="184" width="11" height="44" fill="#000"/>
<rect x="1137" y="216" width="1" height="52" fill="#000"/>
<rect x="1132" y="228" width="11" height="30" fill="#000"/>
<rect x="1153" y="250" width="1" height="36" fill="#000"/>
<rect x="1148" y="254" width="11" height="9" fill="#000"/>
<rect x="1169" y="258" width="1" height="55" fill="#000"/>
<rect x="1164" y="273" width="11" height="37" fill="#000"/>
<rect x="1185" y="213" width="1" height="101" fill="#000"/>
<rect x="1180.5" y="228.5" width="10" height="81" fill="#fff" stroke="#000" stroke-width="1"/>
<rect x="1201" y="170" width="1" height="59" fill="#000"/>
<rect x="1196.5" y="173.5" width="10" height="54" fill="#fff" stroke="#000" stroke-width="1"/>
<rect x="1217" y="162" width="1" height="35" fill="#000"/>
<rect x="1212" y="172" width="11" height="5" fill="#000"/>
<rect x="1233" y="143" width="1" height="38" fill="#000"/>
<rect x="1228.5" y="149.5" width="10" height="27" fill="#fff" stroke="#000" stroke-width="1"/>
<rect x="1249" y="117" width="1" height="43" fill="#000"/>
<rect x="1244.5" y="137.5" width="10" height="12" fill="#fff" stroke="#000" stroke-width="1"/>
<rect x="1265" y="121" width="1" height="29" fill="#000"/>
<rect x="1260" y="138" width="11" height="6" fill="#000"/>
<rect x="1281" y="110" width="1" height="52" fill="#000"/>
<rect x="1276" y="130" width="11" height="14" fill="#000"/>
<rect x="1297" y="130" width="1" height="59" fill="#000"/>
<rect x="1292" y="144" width="11" height="22" fill="#000"/>
<rect x="1313" y="158" width="1" height="23" fill="#000"/>
<rect x="1308.5" y="165.5" width="10" height="5" fill="#fff" stroke="#000" stroke-width="1"/>
<rect x="1329" y="117" width="1" height="53" fill="#000"/>
<rect x="1324.5" y="127.5" width="10" height="38" fill="#fff" stroke="#000" stroke-width="1"/>
<rect x="1345" y="123" width="1" height="38" fill="#000"/>
<rect x="1340" y="128" width="11" height="24" fill="#000"/>
<rect x="1361" y="131" width="1" height="21" fill="#000"/>
<rect x="1356.5" y="144.5" width="10" height="8" fill="#fff" stroke="#000" stroke-width="1"/>
<rect x="1377" y="129" width="1" height="29" fill="#000"/>
<rect x="1372.5" y="130.5" width="10" height="14" fill="#fff" stroke="#000" stroke-width="1"/>
</g>
<g shape-rendering="crispEdges">
<rect x="1.5" y="54.5" width="4" height="4" fill="#fff" stroke="#ff0000" stroke-width="1"/>
<rect x="1623.5" y="54.5" width="4" height="4" fill="#fff" stroke="#ff0000" stroke-width="1"/>
<rect x="1.5" y="90.5" width="4" height="4" fill="#fff" stroke="#ff0000" stroke-width="1"/>
<rect x="1623.5" y="90.5" width="4" height="4" fill="#fff" stroke="#ff0000" stroke-width="1"/>
<rect x="1.5" y="164.5" width="4" height="4" fill="#fff" stroke="#32cd32" stroke-width="1"/>
<rect x="1623.5" y="164.5" width="4" height="4" fill="#fff" stroke="#32cd32" stroke-width="1"/>
<rect x="1.5" y="196.5" width="4" height="4" fill="#fff" stroke="#0000ff" stroke-width="1"/>
<rect x="1623.5" y="196.5" width="4" height="4" fill="#fff" stroke="#0000ff" stroke-width="1"/>
<rect x="1.5" y="239.5" width="4" height="4" fill="#fff" stroke="#0000ff" stroke-width="1"/>
<rect x="1623.5" y="239.5" width="4" height="4" fill="#fff" stroke="#0000ff" stroke-width="1"/>
</g>
<rect x="1254" y="160" width="112" height="18" fill="#00ff00" shape-rendering="crispEdges"/>
<polygon points="1410,32 1421,32 1415.5,37.5" fill="#a0a0a0"/>
<g shape-rendering="crispEdges">
<rect x="1" y="687" width="1" height="38" fill="#b4b4b4"/>
<rect x="16" y="681" width="2" height="44" fill="#b4b4b4"/>
<rect x="32" y="678" width="2" height="47" fill="#b4b4b4"/>
<rect x="48" y="653" width="2" height="72" fill="#b4b4b4"/>
<rect x="64" y="635" width="2" height="90" fill="#b4b4b4"/>
<rect x="80" y="622" width="2" height="103" fill="#b4b4b4"/>
<rect x="96" y="613" width="2" height="112" fill="#b4b4b4"/>
<rect x="112" y="606" width="2" height="119" fill="#b4b4b4"/>
<rect x="128" y="601" width="2" height="124" fill="#b4b4b4"/>
<rect x="144" y="601" width="2" height="124" fill="#b4b4b4"/>
<rect x="160" y="599" width="2" height="126" fill="#b4b4b4"/>
<rect x="176" y="598" width="2" height="127" fill="#b4b4b4"/>
<rect x="192" y="600" width="2" height="125" fill="#b4b4b4"/>
<rect x="208" y="603" width="2" height="122" fill="#b4b4b4"/>
<rect x="224" y="606" width="2" height="119" fill="#b4b4b4"/>
<rect x="240" y="609" width="2" height="116" fill="#b4b4b4"/>
<rect x="256" y="609" width="2" height="116" fill="#b4b4b4"/>
<rect x="272" y="603" width="2" height="122" fill="#b4b4b4"/>
<rect x="288" y="600" width="2" height="125" fill="#b4b4b4"/>
<rect x="304" y="598" width="2" height="127" fill="#b4b4b4"/>
<rect x="320" y="597" width="2" height="128" fill="#b4b4b4"/>
<rect x="336" y="597" width="2" height="128" fill="#b4b4b4"/>
<rect x="352" y="596" width="2" height="129" fill="#b4b4b4"/>
<rect x="368" y="599" width="2" height="126" fill="#b4b4b4"/>
<rect x="384" y="602" width="2" height="123" fill="#b4b4b4"/>
<rect x="400" y="612" width="2" height="113" fill="#b4b4b4"/>
<rect x="416" y="620" width="2" height="105" fill="#b4b4b4"/>
<rect x="432" y="626" width="2" height="99" fill="#b4b4b4"/>
<rect x="448" y="631" width="2" height="94" fill="#b4b4b4"/>
<rect x="464" y="632" width="2" height="93" fill="#b4b4b4"/>
<rect x="480" y="634" width="2" height="91" fill="#b4b4b4"/>
<rect x="496" y="633" width="2" height="92" fill="#b4b4b4"/>
<rect x="512" y="632" width="2" height="93" fill="#b4b4b4"/>
<rect x="528" y="636" width="2" height="89" fill="#b4b4b4"/>
<rect x="544" y="641" width="2" height="84" fill="#b4b4b4"/>
<rect x="560" y="643" width="2" height="82" fill="#b4b4b4"/>
<rect x="576" y="644" width="2" height="81" fill="#b4b4b4"/>
<rect x="592" y="646" width="2" height="79" fill="#b4b4b4"/>
<rect x="608" y="648" width="2" height="77" fill="#b4b4b4"/>
<rect x="624" y="646" width="2" height="79" fill="#b4b4b4"/>
<rect x="640" y="645" width="2" height="80" fill="#b4b4b4"/>
<rect x="656" y="646" width="2" height="79" fill="#b4b4b4"/>
<rect x="672" y="648" width="2" height="77" fill="#b4b4b4"/>
<rect x="688" y="651" width="2" height="74" fill="#b4b4b4"/>
<rect x="704" y="653" width="2" height="72" fill="#b4b4b4"/>
<rect x="720" y="665" width="2" height="60" fill="#b4b4b4"/>
<rect x="736" y="671" width="2" height="54" fill="#b4b4b4"/>
<rect x="752" y="677" width="2" height="48" fill="#b4b4b4"/>
<rect x="768" y="681" width="2" height="44" fill="#b4b4b4"/>
<rect x="784" y="683" width="2" height="42" fill="#b4b4b4"/>
<rect x="800" y="685" width="2" height="40" fill="#b4b4b4"/>
<rect x="816" y="688" width="2" height="37" fill="#b4b4b4"/>
<rect x="832" y="699" width="2" height="26" fill="#b4b4b4"/>
<rect x="848" y="712" width="2" height="13" fill="#b4b4b4"/>
<rect x="864" y="722" width="2" height="3" fill="#b4b4b4"/>
<rect x="880" y="725" width="2" height="4" fill="#b4b4b4"/>
<rect x="896" y="725" width="2" height="9" fill="#b4b4b4"/>
<rect x="912" y="725" width="2" height="15" fill="#b4b4b4"/>
<rect x="928" y="725" width="2" height="21" fill="#b4b4b4"/>
<rect x="944" y="725" width="2" height="22" fill="#b4b4b4"/>
<rect x="960" y="725" width="2" height="28" fill="#b4b4b4"/>
<rect x="976" y="725" width="2" height="32" fill="#b4b4b4"/>
<rect x="992" y="725" width="2" height="36" fill="#b4b4b4"/>
<rect x="1008" y="725" width="2" height="37" fill="#b4b4b4"/>
<rect x="1024" y="725" width="2" height="36" fill="#b4b4b4"/>
<rect x="1040" y="725" width="2" height="28" fill="#b4b4b4"/>
<rect x="1056" y="725" width="2" height="7" fill="#b4b4b4"/>
<rect x="1072" y="718" width="2" height="7" fill="#b4b4b4"/>
<rect x="1088" y="713" width="2" height="12" fill="#b4b4b4"/>
<rect x="1104" y="713" width="2" height="12" fill="#b4b4b4"/>
<rect x="1120" y="718" width="2" height="7" fill="#b4b4b4"/>
<rect x="1136" y="725" width="2" height="2" fill="#b4b4b4"/>
<rect x="1152" y="725" width="2" height="7" fill="#b4b4b4"/>
<rect x="1168" y="725" width="2" height="18" fill="#b4b4b4"/>
<rect x="1184" y="725" width="2" height="17" fill="#b4b4b4"/>
<rect x="1200" y="725" width="2" height="10" fill="#b4b4b4"/>
<rect x="1216" y="725" width="2" height="4" fill="#b4b4b4"/>
<rect x="1232" y="720" width="2" height="5" fill="#b4b4b4"/>
<rect x="1248" y="713" width="2" height="12" fill="#b4b4b4"/>
<rect x="1264" y="708" width="2" height="17" fill="#b4b4b4"/>
<rect x="1280" y="705" width="2" height="20" fill="#b4b4b4"/>
<rect x="1296" y="705" width="2" height="20" fill="#b4b4b4"/>
<rect x="1312" y="705" width="2" height="20" fill="#b4b4b4"/>
<rect x="1328" y="701" width="2" height="24" fill="#b4b4b4"/>
<rect x="1344" y="701" width="2" height="24" fill="#b4b4b4"/>
<rect x="1360" y="700" width="2" height="25" fill="#b4b4b4"/>
<rect x="1376" y="699" width="2" height="26" fill="#b4b4b4"/>
</g>
<g clip-path="url(#cmacd)"><polyline points="0.5,718.4 1.5,718.0 17.5,712.0 33.5,705.4 49.5,696.5 65.5,685.8 81.5,673.8 97.5,663.3 113.5,652.0 129.5,642.5 145.5,631.9 161.5,623.1 177.5,614.4 193.5,608.1 209.5,603.8 225.5,603.1 241.5,602.3 257.5,603.1 273.5,602.9 289.5,602.7 305.5,602.5 321.5,602.0 337.5,601.6 353.5,601.1 369.5,600.9 385.5,600.6 401.5,600.5 417.5,602.5 433.5,605.2 449.5,609.4 465.5,613.7 481.5,617.6 497.5,621.6 513.5,625.4 529.5,628.3 545.5,631.9 561.5,634.6 577.5,636.4 593.5,638.3 609.5,640.0 625.5,641.2 641.5,642.2 657.5,644.0 673.5,645.5 689.5,646.2 705.5,647.5 721.5,649.8 737.5,652.6 753.5,656.7 769.5,660.6 785.5,664.7 801.5,668.7 817.5,673.2 833.5,678.2 849.5,684.0 865.5,690.9 881.5,697.3 897.5,703.6 913.5,710.4 929.5,716.0 945.5,723.2 961.5,729.6 977.5,736.3 993.5,742.0 1009.5,746.1 1025.5,749.0 1041.5,752.0 1057.5,750.9 1073.5,747.8 1089.5,743.9 1105.5,740.2 1121.5,736.3 1137.5,732.0 1153.5,729.6 1169.5,727.4 1185.5,725.5 1201.5,726.5 1217.5,727.3 1233.5,727.5 1249.5,727.5 1265.5,725.8 1281.5,724.4 1297.5,721.2 1313.5,717.2 1329.5,713.0 1345.5,709.3 1361.5,706.3 1377.5,704.1" fill="none" stroke="#ff0000" stroke-width="1" stroke-dasharray="3 3" shape-rendering="crispEdges"/></g>
<g shape-rendering="crispEdges">
<line x1="2" y1="804.5" x2="1627" y2="804.5" stroke="#b4b4b4" stroke-width="1" stroke-dasharray="3 3"/>
<line x1="2" y1="851.5" x2="1627" y2="851.5" stroke="#b4b4b4" stroke-width="1" stroke-dasharray="3 3"/>
<line x1="2" y1="907.5" x2="1627" y2="907.5" stroke="#b4b4b4" stroke-width="1" stroke-dasharray="3 3"/>
</g>
<g clip-path="url(#crsi)"><polyline points="0.5,831.4 1.5,830.4 17.5,828.4 33.5,831.9 49.5,808.6 65.5,810.4 81.5,810.4 97.5,811.4 113.5,810.4 129.5,810.4 145.5,814.1 161.5,811.4 177.5,811.4 193.5,811.4 209.5,814.4 225.5,813.4 241.5,811.6 257.5,808.6 273.5,800.6 289.5,807.4 305.5,805.4 321.5,805.4 337.5,803.8 353.5,801.6 369.5,814.1 385.5,812.4 401.5,832.8 417.5,830.4 433.5,829.4 449.5,828.4 465.5,820.4 481.5,824.2 497.5,819.1 513.5,817.4 529.5,826.7 545.5,831.2 561.5,826.2 577.5,825.2 593.5,824.4 609.5,823.4 625.5,817.6 641.5,816.4 657.5,819.1 673.5,821.2 689.5,823.4 705.5,822.4 721.5,851.2 737.5,843.5 753.5,844.5 769.5,842.5 785.5,837.4 801.5,837.4 817.5,843.3 833.5,863.0 849.5,871.3 865.5,871.3 881.5,863.5 897.5,864.5 913.5,869.5 929.5,871.3 945.5,865.5 961.5,872.3 977.5,874.1 993.5,875.3 1009.5,869.3 1025.5,862.3 1041.5,847.0 1057.5,821.7 1073.5,829.2 1089.5,841.0 1105.5,847.7 1121.5,856.8 1137.5,861.3 1153.5,862.5 1169.5,870.3 1185.5,852.5 1201.5,844.5 1217.5,845.3 1233.5,841.4 1249.5,839.4 1265.5,840.2 1281.5,840.2 1297.5,846.3 1313.5,846.3 1329.5,838.3 1345.5,844.5 1361.5,842.2 1377.5,840.2" fill="none" stroke="#1e90ff" stroke-width="1" shape-rendering="crispEdges"/></g>
<g filter="url(#sh)"><text x="881.8 915.6 948.4 981.3 1015.3" y="203" style="font-family:'Liberation Serif','Noto Serif CJK SC',serif;font-size:31px;font-weight:500;fill:#00ff00">多空转折点</text><text x="1046.6" y="202.8" style="font-family:'Liberation Sans',sans-serif;font-size:33.4px;font-weight:bold;fill:#00ff00" textLength="89" lengthAdjust="spacingAndGlyphs">30058</text></g>
<g shape-rendering="crispEdges">
<rect x="1629" y="86" width="2" height="1" fill="#000"/>
<rect x="1629" y="119" width="2" height="1" fill="#000"/>
<rect x="1629" y="152" width="2" height="1" fill="#000"/>
<rect x="1629" y="185" width="2" height="1" fill="#000"/>
<rect x="1629" y="218" width="2" height="1" fill="#000"/>
<rect x="1629" y="251" width="2" height="1" fill="#000"/>
<rect x="1629" y="284" width="2" height="1" fill="#000"/>
<rect x="1629" y="317" width="2" height="1" fill="#000"/>
<rect x="1629" y="350" width="2" height="1" fill="#000"/>
<rect x="1629" y="383" width="2" height="1" fill="#000"/>
<rect x="1629" y="416" width="2" height="1" fill="#000"/>
<rect x="1629" y="449" width="2" height="1" fill="#000"/>
<rect x="1629" y="482" width="2" height="1" fill="#000"/>
<rect x="1629" y="515" width="2" height="1" fill="#000"/>
<rect x="1629" y="548" width="2" height="1" fill="#000"/>
<rect x="1629" y="581" width="2" height="1" fill="#000"/>
<rect x="1629" y="53" width="2" height="1" fill="#000"/>
<rect x="1628" y="804" width="1" height="1" fill="#fff"/>
<rect x="1628" y="851" width="1" height="1" fill="#fff"/>
<rect x="1628" y="907" width="1" height="1" fill="#fff"/>
<rect x="1628" y="130" width="1" height="1" fill="#fff"/>
<rect x="1629" y="588" width="2" height="1" fill="#000"/>
<rect x="1629" y="725" width="2" height="1" fill="#000"/>
</g>
<text x="1634" y="90" style="font-family:'Liberation Sans',Arial,sans-serif;font-size:10px;fill:#000;stroke:#000;stroke-width:0.2" textLength="32.5" lengthAdjust="spacingAndGlyphs">30260.0</text>
<text x="1634" y="123" style="font-family:'Liberation Sans',Arial,sans-serif;font-size:10px;fill:#000;stroke:#000;stroke-width:0.2" textLength="32.5" lengthAdjust="spacingAndGlyphs">30178.0</text>
<text x="1634" y="156" style="font-family:'Liberation Sans',Arial,sans-serif;font-size:10px;fill:#000;stroke:#000;stroke-width:0.2" textLength="32.5" lengthAdjust="spacingAndGlyphs">30094.0</text>
<text x="1634" y="189" style="font-family:'Liberation Sans',Arial,sans-serif;font-size:10px;fill:#000;stroke:#000;stroke-width:0.2" textLength="32.5" lengthAdjust="spacingAndGlyphs">30012.0</text>
<text x="1634" y="222" style="font-family:'Liberation Sans',Arial,sans-serif;font-size:10px;fill:#000;stroke:#000;stroke-width:0.2" textLength="32.5" lengthAdjust="spacingAndGlyphs">29930.0</text>
<text x="1634" y="255" style="font-family:'Liberation Sans',Arial,sans-serif;font-size:10px;fill:#000;stroke:#000;stroke-width:0.2" textLength="32.5" lengthAdjust="spacingAndGlyphs">29846.0</text>
<text x="1634" y="288" style="font-family:'Liberation Sans',Arial,sans-serif;font-size:10px;fill:#000;stroke:#000;stroke-width:0.2" textLength="32.5" lengthAdjust="spacingAndGlyphs">29764.0</text>
<text x="1634" y="321" style="font-family:'Liberation Sans',Arial,sans-serif;font-size:10px;fill:#000;stroke:#000;stroke-width:0.2" textLength="32.5" lengthAdjust="spacingAndGlyphs">29682.0</text>
<text x="1634" y="354" style="font-family:'Liberation Sans',Arial,sans-serif;font-size:10px;fill:#000;stroke:#000;stroke-width:0.2" textLength="32.5" lengthAdjust="spacingAndGlyphs">29598.0</text>
<text x="1634" y="387" style="font-family:'Liberation Sans',Arial,sans-serif;font-size:10px;fill:#000;stroke:#000;stroke-width:0.2" textLength="32.5" lengthAdjust="spacingAndGlyphs">29516.0</text>
<text x="1634" y="420" style="font-family:'Liberation Sans',Arial,sans-serif;font-size:10px;fill:#000;stroke:#000;stroke-width:0.2" textLength="32.5" lengthAdjust="spacingAndGlyphs">29434.0</text>
<text x="1634" y="453" style="font-family:'Liberation Sans',Arial,sans-serif;font-size:10px;fill:#000;stroke:#000;stroke-width:0.2" textLength="32.5" lengthAdjust="spacingAndGlyphs">29350.0</text>
<text x="1634" y="486" style="font-family:'Liberation Sans',Arial,sans-serif;font-size:10px;fill:#000;stroke:#000;stroke-width:0.2" textLength="32.5" lengthAdjust="spacingAndGlyphs">29268.0</text>
<text x="1634" y="519" style="font-family:'Liberation Sans',Arial,sans-serif;font-size:10px;fill:#000;stroke:#000;stroke-width:0.2" textLength="32.5" lengthAdjust="spacingAndGlyphs">29186.0</text>
<text x="1634" y="552" style="font-family:'Liberation Sans',Arial,sans-serif;font-size:10px;fill:#000;stroke:#000;stroke-width:0.2" textLength="32.5" lengthAdjust="spacingAndGlyphs">29102.0</text>
<text x="1634" y="585" style="font-family:'Liberation Sans',Arial,sans-serif;font-size:10px;fill:#000;stroke:#000;stroke-width:0.2" textLength="32.5" lengthAdjust="spacingAndGlyphs">29020.0</text>
<rect x="1630" y="50" width="41" height="11" fill="#ff0000" shape-rendering="crispEdges"/>
<text x="1634" y="60" style="font-family:'Liberation Sans',Arial,sans-serif;font-size:10px;fill:#fff" textLength="32.5" lengthAdjust="spacingAndGlyphs">30336.0</text>
<rect x="1630" y="86" width="41" height="11" fill="#ff0000" shape-rendering="crispEdges"/>
<text x="1634" y="96" style="font-family:'Liberation Sans',Arial,sans-serif;font-size:10px;fill:#fff" textLength="32.5" lengthAdjust="spacingAndGlyphs">30246.1</text>
<rect x="1630" y="125" width="41" height="11" fill="#000000" shape-rendering="crispEdges"/>
<text x="1634" y="135" style="font-family:'Liberation Sans',Arial,sans-serif;font-size:10px;fill:#fff" textLength="32.5" lengthAdjust="spacingAndGlyphs">30149.0</text>
<rect x="1630" y="160" width="41" height="11" fill="#32cd32" shape-rendering="crispEdges"/>
<text x="1634" y="170" style="font-family:'Liberation Sans',Arial,sans-serif;font-size:10px;fill:#fff" textLength="32.5" lengthAdjust="spacingAndGlyphs">30058.7</text>
<rect x="1630" y="192" width="41" height="11" fill="#0000ff" shape-rendering="crispEdges"/>
<text x="1634" y="202" style="font-family:'Liberation Sans',Arial,sans-serif;font-size:10px;fill:#fff" textLength="32.5" lengthAdjust="spacingAndGlyphs">29980.0</text>
<rect x="1630" y="235" width="41" height="11" fill="#0000ff" shape-rendering="crispEdges"/>
<text x="1634" y="245" style="font-family:'Liberation Sans',Arial,sans-serif;font-size:10px;fill:#fff" textLength="32.5" lengthAdjust="spacingAndGlyphs">29871.3</text>
<text x="1632" y="597" style="font-family:'Liberation Sans',Arial,sans-serif;font-size:10px;fill:#000;stroke:#000;stroke-width:0.2" textLength="23" lengthAdjust="spacingAndGlyphs">245.9</text>
<text x="1632" y="729" style="font-family:'Liberation Sans',Arial,sans-serif;font-size:10px;fill:#000;stroke:#000;stroke-width:0.2" textLength="18" lengthAdjust="spacingAndGlyphs">0.00</text>
<text x="1632" y="766" style="font-family:'Liberation Sans',Arial,sans-serif;font-size:10px;fill:#000;stroke:#000;stroke-width:0.2" textLength="28" lengthAdjust="spacingAndGlyphs">-77.05</text>
<text x="1632" y="782" style="font-family:'Liberation Sans',Arial,sans-serif;font-size:10px;fill:#000;stroke:#000;stroke-width:0.2" textLength="16" lengthAdjust="spacingAndGlyphs">100</text>
<text x="1632" y="808" style="font-family:'Liberation Sans',Arial,sans-serif;font-size:10px;fill:#000;stroke:#000;stroke-width:0.2" textLength="11" lengthAdjust="spacingAndGlyphs">80</text>
<text x="1632" y="855" style="font-family:'Liberation Sans',Arial,sans-serif;font-size:10px;fill:#000;stroke:#000;stroke-width:0.2" textLength="11" lengthAdjust="spacingAndGlyphs">50</text>
<text x="1632" y="911" style="font-family:'Liberation Sans',Arial,sans-serif;font-size:10px;fill:#000;stroke:#000;stroke-width:0.2" textLength="11" lengthAdjust="spacingAndGlyphs">15</text>
<text x="1632" y="927" style="font-family:'Liberation Sans',Arial,sans-serif;font-size:10px;fill:#000;stroke:#000;stroke-width:0.2" textLength="6" lengthAdjust="spacingAndGlyphs">0</text>
<g shape-rendering="crispEdges">
<rect x="1" y="932" width="1" height="3" fill="#000"/>
<rect x="65" y="932" width="1" height="3" fill="#000"/>
<rect x="129" y="932" width="1" height="3" fill="#000"/>
<rect x="193" y="932" width="1" height="3" fill="#000"/>
<rect x="257" y="932" width="1" height="3" fill="#000"/>
<rect x="321" y="932" width="1" height="3" fill="#000"/>
<rect x="385" y="932" width="1" height="3" fill="#000"/>
<rect x="449" y="932" width="1" height="3" fill="#000"/>
<rect x="513" y="932" width="1" height="3" fill="#000"/>
<rect x="577" y="932" width="1" height="3" fill="#000"/>
<rect x="641" y="932" width="1" height="3" fill="#000"/>
<rect x="705" y="932" width="1" height="3" fill="#000"/>
<rect x="769" y="932" width="1" height="3" fill="#000"/>
<rect x="833" y="932" width="1" height="3" fill="#000"/>
<rect x="897" y="932" width="1" height="3" fill="#000"/>
<rect x="961" y="932" width="1" height="3" fill="#000"/>
<rect x="1025" y="932" width="1" height="3" fill="#000"/>
<rect x="1089" y="932" width="1" height="3" fill="#000"/>
<rect x="1153" y="932" width="1" height="3" fill="#000"/>
<rect x="1217" y="932" width="1" height="3" fill="#000"/>
<rect x="1281" y="932" width="1" height="3" fill="#000"/>
<rect x="1345" y="932" width="1" height="3" fill="#000"/>
</g>
<text x="-1" y="944.5" style="font-family:'Liberation Sans',Arial,sans-serif;font-size:10px;fill:#000;stroke:#000;stroke-width:0.2" textLength="53" lengthAdjust="spacingAndGlyphs">29 Mar 2019</text>
<text x="64.5" y="944.5" style="font-family:'Liberation Sans',Arial,sans-serif;font-size:10px;fill:#000;stroke:#000;stroke-width:0.2" textLength="48.3" lengthAdjust="spacingAndGlyphs">1 Apr 02:15</text>
<text x="128.5" y="944.5" style="font-family:'Liberation Sans',Arial,sans-serif;font-size:10px;fill:#000;stroke:#000;stroke-width:0.2" textLength="48.3" lengthAdjust="spacingAndGlyphs">1 Apr 07:00</text>
<text x="192.5" y="944.5" style="font-family:'Liberation Sans',Arial,sans-serif;font-size:10px;fill:#000;stroke:#000;stroke-width:0.2" textLength="48.3" lengthAdjust="spacingAndGlyphs">2 Apr 03:15</text>
<text x="256.5" y="944.5" style="font-family:'Liberation Sans',Arial,sans-serif;font-size:10px;fill:#000;stroke:#000;stroke-width:0.2" textLength="48.3" lengthAdjust="spacingAndGlyphs">2 Apr 08:00</text>
<text x="320.5" y="944.5" style="font-family:'Liberation Sans',Arial,sans-serif;font-size:10px;fill:#000;stroke:#000;stroke-width:0.2" textLength="48.3" lengthAdjust="spacingAndGlyphs">3 Apr 05:00</text>
<text x="384.5" y="944.5" style="font-family:'Liberation Sans',Arial,sans-serif;font-size:10px;fill:#000;stroke:#000;stroke-width:0.2" textLength="48.3" lengthAdjust="spacingAndGlyphs">4 Apr 01:15</text>
<text x="448.5" y="944.5" style="font-family:'Liberation Sans',Arial,sans-serif;font-size:10px;fill:#000;stroke:#000;stroke-width:0.2" textLength="48.3" lengthAdjust="spacingAndGlyphs">4 Apr 06:00</text>
<text x="512.5" y="944.5" style="font-family:'Liberation Sans',Arial,sans-serif;font-size:10px;fill:#000;stroke:#000;stroke-width:0.2" textLength="48.3" lengthAdjust="spacingAndGlyphs">8 Apr 02:15</text>
<text x="576.5" y="944.5" style="font-family:'Liberation Sans',Arial,sans-serif;font-size:10px;fill:#000;stroke:#000;stroke-width:0.2" textLength="48.3" lengthAdjust="spacingAndGlyphs">8 Apr 07:00</text>
<text x="640.5" y="944.5" style="font-family:'Liberation Sans',Arial,sans-serif;font-size:10px;fill:#000;stroke:#000;stroke-width:0.2" textLength="48.3" lengthAdjust="spacingAndGlyphs">9 Apr 03:15</text>
<text x="704.5" y="944.5" style="font-family:'Liberation Sans',Arial,sans-serif;font-size:10px;fill:#000;stroke:#000;stroke-width:0.2" textLength="48.3" lengthAdjust="spacingAndGlyphs">9 Apr 08:00</text>
<text x="768.5" y="944.5" style="font-family:'Liberation Sans',Arial,sans-serif;font-size:10px;fill:#000;stroke:#000;stroke-width:0.2" textLength="53" lengthAdjust="spacingAndGlyphs">10 Apr 05:00</text>
<text x="832.5" y="944.5" style="font-family:'Liberation Sans',Arial,sans-serif;font-size:10px;fill:#000;stroke:#000;stroke-width:0.2" textLength="53" lengthAdjust="spacingAndGlyphs">11 Apr 01:15</text>
<text x="896.5" y="944.5" style="font-family:'Liberation Sans',Arial,sans-serif;font-size:10px;fill:#000;stroke:#000;stroke-width:0.2" textLength="53" lengthAdjust="spacingAndGlyphs">11 Apr 06:00</text>
<text x="960.5" y="944.5" style="font-family:'Liberation Sans',Arial,sans-serif;font-size:10px;fill:#000;stroke:#000;stroke-width:0.2" textLength="53" lengthAdjust="spacingAndGlyphs">12 Apr 02:15</text>
<text x="1024.5" y="944.5" style="font-family:'Liberation Sans',Arial,sans-serif;font-size:10px;fill:#000;stroke:#000;stroke-width:0.2" textLength="53" lengthAdjust="spacingAndGlyphs">12 Apr 07:00</text>
<text x="1088.5" y="944.5" style="font-family:'Liberation Sans',Arial,sans-serif;font-size:10px;fill:#000;stroke:#000;stroke-width:0.2" textLength="53" lengthAdjust="spacingAndGlyphs">15 Apr 03:15</text>
<text x="1152.5" y="944.5" style="font-family:'Liberation Sans',Arial,sans-serif;font-size:10px;fill:#000;stroke:#000;stroke-width:0.2" textLength="53" lengthAdjust="spacingAndGlyphs">15 Apr 08:00</text>
<text x="1216.5" y="944.5" style="font-family:'Liberation Sans',Arial,sans-serif;font-size:10px;fill:#000;stroke:#000;stroke-width:0.2" textLength="53" lengthAdjust="spacingAndGlyphs">16 Apr 05:00</text>
<text x="1280.5" y="944.5" style="font-family:'Liberation Sans',Arial,sans-serif;font-size:10px;fill:#000;stroke:#000;stroke-width:0.2" textLength="53" lengthAdjust="spacingAndGlyphs">17 Apr 01:15</text>
<text x="1344.5" y="944.5" style="font-family:'Liberation Sans',Arial,sans-serif;font-size:10px;fill:#000;stroke:#000;stroke-width:0.2" textLength="53" lengthAdjust="spacingAndGlyphs">17 Apr 06:00</text>
<polygon points="4,42 11,42 7.5,38" fill="#000"/>
<text x="16" y="43" style="font-family:'Liberation Sans',Arial,sans-serif;font-size:10px;fill:#000;stroke:#000;stroke-width:0.2"><tspan textLength="40" lengthAdjust="spacingAndGlyphs">HK50-,H1</tspan></text>
<text x="63" y="43" style="font-family:'Liberation Sans',Arial,sans-serif;font-size:10px;fill:#000;stroke:#000;stroke-width:0.2" textLength="32.5" lengthAdjust="spacingAndGlyphs">30114.5</text>
<text x="99" y="43" style="font-family:'Liberation Sans',Arial,sans-serif;font-size:10px;fill:#000;stroke:#000;stroke-width:0.2" textLength="32.5" lengthAdjust="spacingAndGlyphs">30151.5</text>
<text x="135" y="43" style="font-family:'Liberation Sans',Arial,sans-serif;font-size:10px;fill:#000;stroke:#000;stroke-width:0.2" textLength="32.5" lengthAdjust="spacingAndGlyphs">30082.5</text>
<text x="171" y="43" style="font-family:'Liberation Sans',Arial,sans-serif;font-size:10px;fill:#000;stroke:#000;stroke-width:0.2" textLength="32.5" lengthAdjust="spacingAndGlyphs">30149.0</text>
<text x="5" y="599" style="font-family:'Liberation Sans',Arial,sans-serif;font-size:10px;fill:#000;stroke:#000;stroke-width:0.2" textLength="118" lengthAdjust="spacingAndGlyphs">MACD(12,26,9) 47.46 37.92</text>
<text x="5" y="784" style="font-family:'Liberation Sans',Arial,sans-serif;font-size:10px;fill:#000;stroke:#000;stroke-width:0.2" textLength="68" lengthAdjust="spacingAndGlyphs">RSI(14) 57.5019</text></svg>
<div id="edge"></div>
<svg id="panel" width="230" height="120" viewBox="0 0 230 120" style="position:absolute;left:0;top:0"><defs><linearGradient id="gtab" x1="0" y1="0" x2="0" y2="1"><stop offset="0" stop-color="#f65454"/><stop offset="1" stop-color="#e02c2c"/></linearGradient><linearGradient id="gbox" x1="0" y1="0" x2="0" y2="1"><stop offset="0" stop-color="#e23232"/><stop offset="1" stop-color="#b00404"/></linearGradient></defs><rect x="2" y="49" width="222" height="68" fill="#fff"/><path d="M4,51 H56 V75 H113 V115 H4 V75 H4 Z" fill="url(#gbox)"/><rect x="4" y="51" width="52" height="24" fill="url(#gtab)"/><path d="M4.5,51.5 H55.5 V75.5 M112.5,75.5 V114.5 H4.5 V75.5 M4.5,51.5 V75" fill="none" stroke="#c40a0a" stroke-width="1"/><rect x="8" y="74" width="44" height="1" fill="#7a0000"/><rect x="8" y="75" width="44" height="1" fill="#e86a6a" opacity="0.6"/><text x="16" y="67" style="font-family:'Liberation Sans',Arial,sans-serif;font-size:12.5px;fill:#fff0f0" textLength="25.5" lengthAdjust="spacingAndGlyphs">SELL</text><text x="20.5" y="106.3" style="font-family:'Liberation Sans',Arial,sans-serif;font-size:12.5px;font-weight:bold;fill:#fff" textLength="34" lengthAdjust="spacingAndGlyphs">30147</text><text x="56" y="106.6" style="font-family:'Liberation Sans',Arial,sans-serif;font-size:33px;fill:#fff">.</text><text x="65.8" y="106.7" style="font-family:'Liberation Sans',Arial,sans-serif;font-size:35px;fill:#fff" textLength="16.6" lengthAdjust="spacingAndGlyphs">5</text><path d="M171,51 H223 V75 H223 V115 H115 V75 H171 Z" fill="url(#gbox)"/><rect x="171" y="51" width="52" height="24" fill="url(#gtab)"/><path d="M171.5,51.5 H222.5 V75.5 M222.5,75.5 V114.5 H115.5 V75.5 M171.5,51.5 V75" fill="none" stroke="#c40a0a" stroke-width="1"/><rect x="175" y="74" width="44" height="1" fill="#7a0000"/><rect x="175" y="75" width="44" height="1" fill="#e86a6a" opacity="0.6"/><text x="184.5" y="67" style="font-family:'Liberation Sans',Arial,sans-serif;font-size:12.5px;fill:#fff0f0" textLength="23" lengthAdjust="spacingAndGlyphs">BUY</text><text x="130.5" y="106.3" style="font-family:'Liberation Sans',Arial,sans-serif;font-size:12.5px;font-weight:bold;fill:#fff" textLength="34" lengthAdjust="spacingAndGlyphs">30160</text><text x="167" y="106.6" style="font-family:'Liberation Sans',Arial,sans-serif;font-size:33px;fill:#fff">.</text><text x="176.8" y="106.7" style="font-family:'Liberation Sans',Arial,sans-serif;font-size:35px;fill:#fff" textLength="16.6" lengthAdjust="spacingAndGlyphs">5</text><rect x="58.5" y="51.5" width="110" height="21" fill="#fff" stroke="#a8a8a8" stroke-width="1"/><rect x="59" y="52" width="20" height="20" fill="#e6e6e6"/><rect x="79" y="52" width="1" height="20" fill="#a8a8a8"/><rect x="148" y="52" width="20" height="20" fill="#e6e6e6"/><rect x="147" y="52" width="1" height="20" fill="#a8a8a8"/><polygon points="66,60 72,60 69,63" fill="#000"/><polygon points="155,63 161,63 158,60" fill="#000"/><text x="121" y="66.2" style="font-family:'Liberation Sans',Arial,sans-serif;font-size:12.5px;fill:#000" textLength="22.5" lengthAdjust="spacingAndGlyphs">1.00</text></svg>
</body></html>
